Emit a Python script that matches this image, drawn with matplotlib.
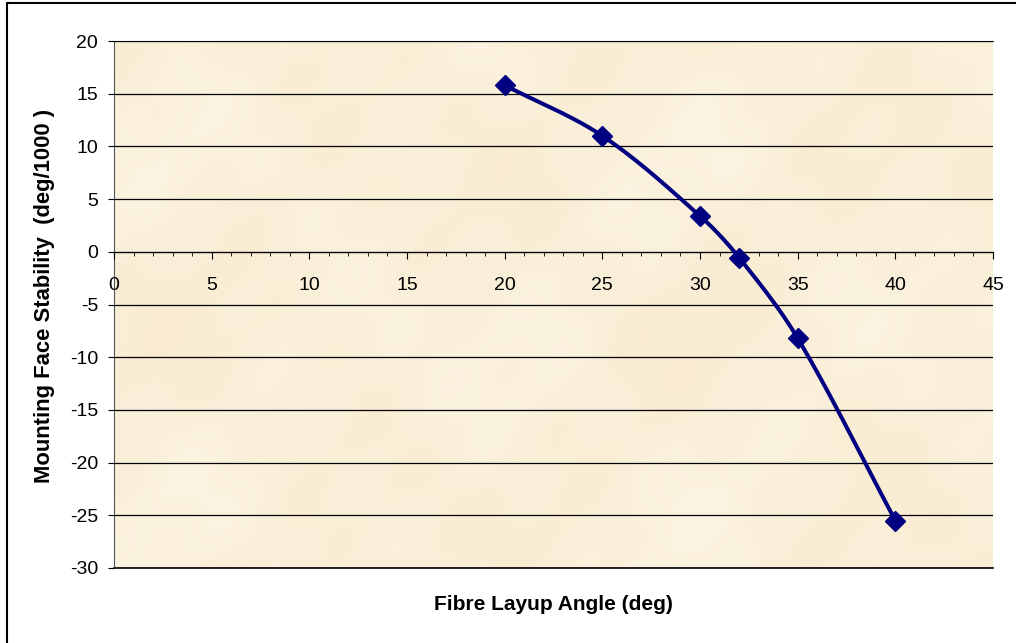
import numpy as np
import matplotlib.pyplot as plt
from matplotlib.patches import Rectangle

# Fibre layup angle vs mounting face stability
angle = [20, 25, 30, 32, 35, 40]
stability = [15.8, 11.0, 3.4, -0.55, -8.2, -25.5]

x_ticks = [0, 5, 10, 15, 20, 25, 30, 35, 40, 45]
y_ticks = [-30, -25, -20, -15, -10, -5, 0, 5, 10, 15, 20]


def smooth(xs, ys, sx=19.5, sy=10.5, n=40):
    # Bezier smoothing through the points; tangents weighted by on-screen
    # chord lengths so short segments don't kink
    p = np.column_stack([np.array(xs, float) * sx, np.array(ys, float) * sy])
    p = np.vstack([2 * p[0] - p[1], p, 2 * p[-1] - p[-2]])
    t = np.linspace(0, 1, n)[:, None]
    out = []
    for i in range(1, len(p) - 2):
        p0, p1, p2, p3 = p[i - 1], p[i], p[i + 1], p[i + 2]
        d01 = np.linalg.norm(p1 - p0)
        d12 = np.linalg.norm(p2 - p1)
        d23 = np.linalg.norm(p3 - p2)
        c1 = p1 + (p2 - p0) * d12 / (d01 + d12) / 3
        c2 = p2 - (p3 - p1) * d12 / (d12 + d23) / 3
        b = ((1 - t) ** 3) * p1 + 3 * ((1 - t) ** 2) * t * c1 \
            + 3 * (1 - t) * t ** 2 * c2 + t ** 3 * p2
        out.append(b)
    out = np.vstack(out)
    return out[:, 0] / sx, out[:, 1] / sy


def parchment(w=400, h=240):
    # soft mottled paper tone built from a few low-frequency waves
    yy, xx = np.mgrid[0:h, 0:w] / 60.0
    m = (np.sin(xx * 1.7 + 0.4) * np.cos(yy * 2.3 + 1.1)
         + 0.6 * np.sin(xx * 3.1 + yy * 2.2 + 2.0)
         + 0.4 * np.cos(xx * 5.3 - yy * 4.1 + 0.7)
         + 0.3 * np.sin(xx * 8.7 + yy * 7.9))
    m = (m - m.min()) / (m.max() - m.min())
    light = np.array([252, 244, 227]) / 255
    dark = np.array([248, 235, 207]) / 255
    return light + (dark - light) * m[..., None]


plt.rcParams['font.family'] = ['Liberation Sans', 'DejaVu Sans']
plt.rcParams['axes.unicode_minus'] = False

fig = plt.figure(figsize=(10.16, 6.43), dpi=100)
fig.patches.append(Rectangle((7 / 1016, -0.1), 1.2, 1 - 3 / 643 + 0.1,
                             transform=fig.transFigure, fill=False,
                             edgecolor='black', linewidth=1.5))

ax = fig.add_axes([114 / 1016, 1 - 568 / 643, 879 / 1016, 527 / 643])
ax.imshow(parchment(), extent=[0, 45, -30, 20], aspect='auto', zorder=0,
          interpolation='bilinear')

cx, cy = smooth(angle, stability)
ax.plot(cx, cy, color='#000080', linewidth=2.9, zorder=3)
ax.plot(angle, stability, linestyle='none', marker='D', markersize=10,
        color='#000080', zorder=4, clip_on=False)

ax.set_xlim(0, 45)
ax.set_ylim(-30, 20)
ax.set_xticks(x_ticks)
ax.set_xticks(np.arange(0, 46, 1), minor=True)
ax.set_yticks(y_ticks)
ax.yaxis.grid(True, color='black', linewidth=0.9, zorder=1)
ax.set_axisbelow(False)

ax.spines['bottom'].set_position(('data', 0))
ax.spines['right'].set_visible(False)
ax.spines['top'].set_color('#444444')
ax.spines['left'].set_color('#555555')
ax.spines['bottom'].set_color('black')
ax.axhline(-30, color='black', linewidth=1.2, clip_on=False)

ax.tick_params(axis='x', which='major', length=5, direction='out', labelsize=14, pad=13)
ax.tick_params(axis='x', which='minor', length=3, direction='out')
ax.tick_params(axis='y', length=4.5, direction='out', labelsize=14, pad=7)

ax.set_xlabel('Fibre Layup Angle (deg)', fontsize=15, fontweight='bold', va='center')
ax.xaxis.set_label_coords(0.5, -0.070)
ax.set_ylabel('Mounting Face Stability  (deg/1000 )', fontsize=15.8,
              fontweight='bold', va='center')
ax.yaxis.set_label_coords(-0.0796, 0.516)

fig.savefig('out.png', dpi=100)
